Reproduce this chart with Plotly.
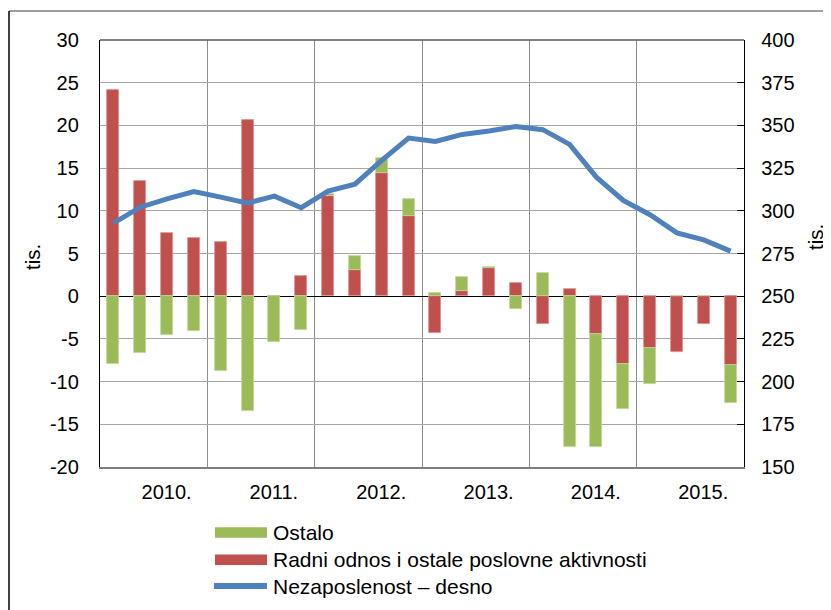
import plotly.graph_objects as go

quarters = list(range(24))
year_labels = ["2010.", "2011.", "2012.", "2013.", "2014.", "2015."]
year_label_pos = [1.98, 5.98, 9.98, 13.98, 17.98, 21.98]
year_bounds = [3.5, 7.5, 11.5, 15.5, 19.5]
left_ticks = [-20, -15, -10, -5, 0, 5, 10, 15, 20, 25, 30]
left_labels = ["-20", "-15", "-10", "-5", "0", "5", "10", "15", "20", "25", "30"]

series_names = ["Ostalo", "Radni odnos i ostale poslovne aktivnosti", "Nezaposlenost – desno"]

radni = [24.2, 13.5, 7.45, 6.85, 6.3, 20.6, 0.0, 2.4, 11.7, 3.1, 14.4, 9.4,
         -4.3, 0.6, 3.3, 1.5, -3.2, 0.85, -4.4, -7.9, -6.1, -6.55, -3.2, -8.1]
ostalo = [-7.9, -6.6, -4.5, -4.05, -8.75, -13.4, -5.35, -4.0, 0.3, 1.65, 1.75, 1.95,
          0.35, 1.7, 0.15, -1.5, 2.7, -17.7, -13.2, -5.3, -4.2, 0.0, 0.0, -4.4]
nezap = [292.8, 302.1, 307.0, 311.3, 308.0, 304.5, 308.6, 301.8, 311.5, 315.6, 329.5, 342.6,
         340.6, 344.7, 346.7, 349.4, 347.5, 338.9, 319.7, 306.1, 297.7, 287.1, 283.0, 276.4]

RED = "#C0504D"
GREEN = "#9BBB59"
BLUE = "#4F81BD"
FONT = "Liberation Sans, Arial, sans-serif"

fig = go.Figure()
fig.add_trace(go.Bar(x=quarters, y=radni, name=series_names[1],
                     marker=dict(color=RED, line=dict(color="#D99694", width=0.8)),
                     width=0.45, showlegend=False, yaxis="y"))
fig.add_trace(go.Bar(x=quarters, y=ostalo, name=series_names[0],
                     marker=dict(color=GREEN, line=dict(color="#C3D69B", width=0.8)),
                     width=0.45, showlegend=False, yaxis="y"))
fig.add_trace(go.Scatter(x=quarters, y=nezap, name=series_names[2], mode="lines",
                         line=dict(color=BLUE, width=5), yaxis="y2", showlegend=False))

# page body adds an 8px offset; figure is sized to fill the rest of the window
OFF = 8
W, H = 831 - OFF, 610 - OFF
PL, PR, PT, PB = 100, 744, 40, 467  # plot area in screen pixels
L, R, T, B = PL - OFF, W - (PR - OFF), PT - OFF, H - (PB - OFF)
pw, ph = PR - PL, PB - PT

def px_x(x):
    return (x - PL) / pw

def px_y(y):
    return (PB - y) / ph

# legend (Excel style: wide swatches)
leg_rows = [532.5, 559.7, 586.0]
leg_colors = [GREEN, RED, BLUE]
shapes = []
annotations = []
for i, (name, col, yy) in enumerate(zip(series_names, leg_colors, leg_rows)):
    if i < 2:
        shapes.append(dict(type="rect", xref="paper", yref="paper",
                           x0=px_x(215), x1=px_x(267), y0=px_y(yy - 5.2), y1=px_y(yy + 5.2),
                           fillcolor=col, line=dict(width=0)))
    else:
        shapes.append(dict(type="line", xref="paper", yref="paper",
                           x0=px_x(214), x1=px_x(267), y0=px_y(yy), y1=px_y(yy),
                           line=dict(color=col, width=6)))
    annotations.append(dict(text=name, x=px_x(271), y=px_y(yy), xref="paper", yref="paper",
                            xanchor="left", yanchor="middle", showarrow=False,
                            font=dict(size=21, family=FONT, color="black")))

annotations += [
    dict(text="tis.", x=px_x(32), y=px_y(257), xref="paper", yref="paper",
         xanchor="center", yanchor="middle",
         showarrow=False, textangle=-90, font=dict(size=20.5, family=FONT)),
    dict(text="tis.", x=px_x(816), y=px_y(237), xref="paper", yref="paper",
         xanchor="center", yanchor="middle",
         showarrow=False, textangle=-90, font=dict(size=20.5, family=FONT)),
]
shapes += [
    dict(type="line", xref="paper", yref="paper", x0=px_x(9), x1=px_x(830),
         y0=px_y(11), y1=px_y(11), line=dict(color="#7f7f7f", width=1.5)),
    dict(type="line", xref="paper", yref="paper", x0=px_x(9), x1=px_x(9),
         y0=px_y(11), y1=px_y(612), line=dict(color="black", width=1.5)),
    dict(type="line", xref="paper", yref="paper", x0=0, x1=1, y0=1, y1=1,
         line=dict(color="#595959", width=1.3)),
]

fig.update_layout(
    width=W, height=H,
    margin=dict(l=L, r=R, t=T, b=B, autoexpand=False),
    paper_bgcolor="white", plot_bgcolor="white",
    barmode="relative", bargap=0, showlegend=False,
    font=dict(family=FONT, size=20, color="black"),
    xaxis=dict(range=[-0.5, 23.5], tickvals=year_label_pos, ticktext=year_labels,
               showgrid=False, ticks="", ticklabelstandoff=6,
               showline=True, linecolor="#7f7f7f", linewidth=2, mirror=False,
               minor=dict(tickvals=year_bounds, showgrid=True, gridcolor="#8c8c8c", gridwidth=1),
               zeroline=False),
    yaxis=dict(range=[-20, 30], tickvals=left_ticks, ticktext=left_labels,
               showgrid=True, gridcolor="#a6a6a6", gridwidth=1,
               zeroline=True, zerolinecolor="black", zerolinewidth=1.3,
               showline=True, linecolor="black", linewidth=1.3, ticks="",
               ticklabelstandoff=16),
    yaxis2=dict(range=[150, 400], dtick=25, overlaying="y", side="right", showgrid=False,
                zeroline=False, showline=True, linecolor="black", linewidth=1.3,
                ticks="inside", ticklen=7, tickcolor="black", tickwidth=1.3,
                ticklabelstandoff=12),
    annotations=annotations,
    shapes=shapes,
)

fig.write_html("out.html")
